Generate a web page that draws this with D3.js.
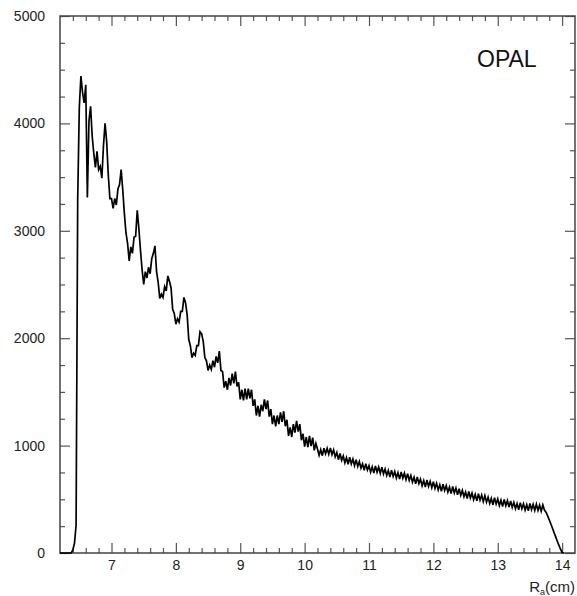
<!DOCTYPE html>
<html>
<head>
<meta charset="utf-8">
<script src="https://cdn.jsdelivr.net/npm/d3@7"></script>
<style>
  body { margin: 0; background: #fff; }
  svg { display: block; font-family: "Liberation Sans", Arial, Helvetica, sans-serif; }
</style>
</head>
<body>
<svg width="577" height="596"></svg>
<script>
// Histogram of R_a, bins of 0.025 cm starting at 6.2 cm
var radiusStart = 6.2,
    binWidth = 0.025;

// counts per bin (alternating top / bottom of the noisy band)
var counts = [
  0, 0, 0, 0, 0, 0, 0, 0,
  30, 90, 260, 3300, 4150, 4440, 4290, 4190,
  4360, 3310, 4020, 4160, 3880, 3720, 3590, 3740,
  3570, 3600, 3490, 3790, 4000, 3830, 3520, 3300,
  3300, 3210, 3300, 3240, 3390, 3430, 3570, 3380,
  3160, 2980, 2880, 2720, 2850, 2790, 2940, 2950,
  3190, 3020, 2820, 2640, 2500, 2620, 2560, 2660,
  2600, 2740, 2790, 2860, 2620, 2520, 2370, 2410,
  2380, 2480, 2440, 2580, 2530, 2470, 2270, 2230,
  2130, 2180, 2150, 2250, 2250, 2380, 2330, 2220,
  1990, 1930, 1820, 1860, 1840, 1930, 1930, 2060,
  2040, 1970, 1820, 1790, 1700, 1750, 1710, 1790,
  1730, 1830, 1770, 1880, 1700, 1690, 1540, 1600,
  1520, 1630, 1560, 1670, 1580, 1690, 1550, 1590,
  1430, 1520, 1420, 1530, 1430, 1530, 1440, 1520,
  1370, 1430, 1280, 1370, 1270, 1380, 1320, 1430,
  1340, 1420, 1270, 1340, 1200, 1280, 1180, 1280,
  1200, 1310, 1220, 1320, 1180, 1240, 1090, 1170,
  1080, 1200, 1120, 1230, 1130, 1200, 1050, 1110,
  990, 1080, 985, 1090, 995, 1075, 955, 1020,
  968, 910, 962, 906, 976, 925, 975, 920,
  979, 916, 961, 895, 935, 869, 927, 863,
  903, 840, 887, 826, 891, 830, 875, 814,
  869, 806, 851, 790, 830, 769, 832, 773,
  813, 753, 802, 744, 811, 753, 800, 742,
  799, 736, 782, 722, 768, 708, 772, 713,
  758, 698, 748, 688, 755, 696, 743, 683,
  739, 676, 721, 660, 705, 644, 707, 646,
  688, 626, 674, 614, 680, 620, 667, 608,
  664, 602, 648, 588, 635, 575, 640, 582,
  628, 566, 613, 553, 619, 559, 604, 543,
  599, 537, 583, 523, 568, 508, 572, 513,
  558, 497, 545, 485, 552, 492, 539, 479,
  534, 473, 520, 461, 508, 449, 514, 456,
  503, 442, 491, 432, 499, 440, 487, 427,
  484, 424, 472, 413, 461, 403, 469, 412,
  458, 399, 450, 393, 461, 404, 453, 396,
  454, 396, 445, 389, 448, 400, 380, 345,
  310, 270, 230, 190, 150, 110, 72, 35,
  5, 0
];

var xTicks = [7, 8, 9, 10, 11, 12, 13, 14];
var yTicks = [0, 1000, 2000, 3000, 4000, 5000];
var xDomain = [6.2, 14.2];
var yDomain = [0, 5000];

var svg = d3.select("svg");
var margin = {left: 60, right: 2, top: 16, bottom: 43};
var width = 577 - margin.left - margin.right,
    height = 596 - margin.top - margin.bottom;

var g = svg.append("g").attr("transform", "translate(" + margin.left + "," + margin.top + ")");

var x = d3.scaleLinear().domain(xDomain).range([0, width]);
var y = d3.scaleLinear().domain(yDomain).range([height, 0]);

// minor ticks every 0.2 cm and every 250 entries
var xMinor = d3.range(6.4, 14.2, 0.2).filter(function(v) { return Math.abs(v - Math.round(v)) > 0.01; });
var yMinor = d3.range(250, 5000, 250).filter(function(v) { return v % 1000 !== 0; });

function styleAxis(sel) {
  sel.select(".domain").remove();
  sel.selectAll("line").attr("stroke", "#555").attr("stroke-width", 1.2);
  sel.selectAll("text").attr("fill", "#222").style("font-size", "14px");
}

// bottom
g.append("g").attr("transform", "translate(0," + height + ")")
  .call(d3.axisBottom(x).tickValues(xTicks).tickSize(-10).tickPadding(7).tickFormat(d3.format("d")))
  .call(styleAxis);
g.append("g").attr("transform", "translate(0," + height + ")")
  .call(d3.axisBottom(x).tickValues(xMinor).tickSize(-5).tickFormat(""))
  .call(styleAxis);
// top
g.append("g")
  .call(d3.axisTop(x).tickValues(xTicks).tickSize(-10).tickFormat(""))
  .call(styleAxis);
g.append("g")
  .call(d3.axisTop(x).tickValues(xMinor).tickSize(-5).tickFormat(""))
  .call(styleAxis);
// left
g.append("g")
  .call(d3.axisLeft(y).tickValues(yTicks).tickSize(-10).tickPadding(15).tickFormat(d3.format("d")))
  .call(styleAxis);
g.append("g")
  .call(d3.axisLeft(y).tickValues(yMinor).tickSize(-5).tickFormat(""))
  .call(styleAxis);
// right
g.append("g").attr("transform", "translate(" + width + ",0)")
  .call(d3.axisRight(y).tickValues(yTicks).tickSize(-10).tickFormat(""))
  .call(styleAxis);
g.append("g").attr("transform", "translate(" + width + ",0)")
  .call(d3.axisRight(y).tickValues(yMinor).tickSize(-5).tickFormat(""))
  .call(styleAxis);

// frame
g.append("rect")
  .attr("width", width).attr("height", height)
  .attr("fill", "none").attr("stroke", "#444").attr("stroke-width", 1.5);

// histogram line
var line = d3.line()
  .x(function(d, i) { return x(radiusStart + i * binWidth); })
  .y(function(d) { return y(d); });

g.append("path")
  .datum(counts)
  .attr("d", line)
  .attr("fill", "none")
  .attr("stroke", "#000")
  .attr("stroke-width", 1.7)
  .attr("stroke-linejoin", "miter");

// labels
g.append("text")
  .attr("x", 417).attr("y", 51)
  .attr("font-size", 23).attr("fill", "#111")
  .text("OPAL");

var xt = svg.append("text")
  .attr("x", 575).attr("y", 592)
  .attr("text-anchor", "end")
  .attr("font-size", 15).attr("fill", "#222");
xt.append("tspan").text("R");
xt.append("tspan").attr("font-size", 9).attr("dy", 3).text("a");
xt.append("tspan").attr("dy", -3).text("(cm)");
</script>
</body>
</html>
